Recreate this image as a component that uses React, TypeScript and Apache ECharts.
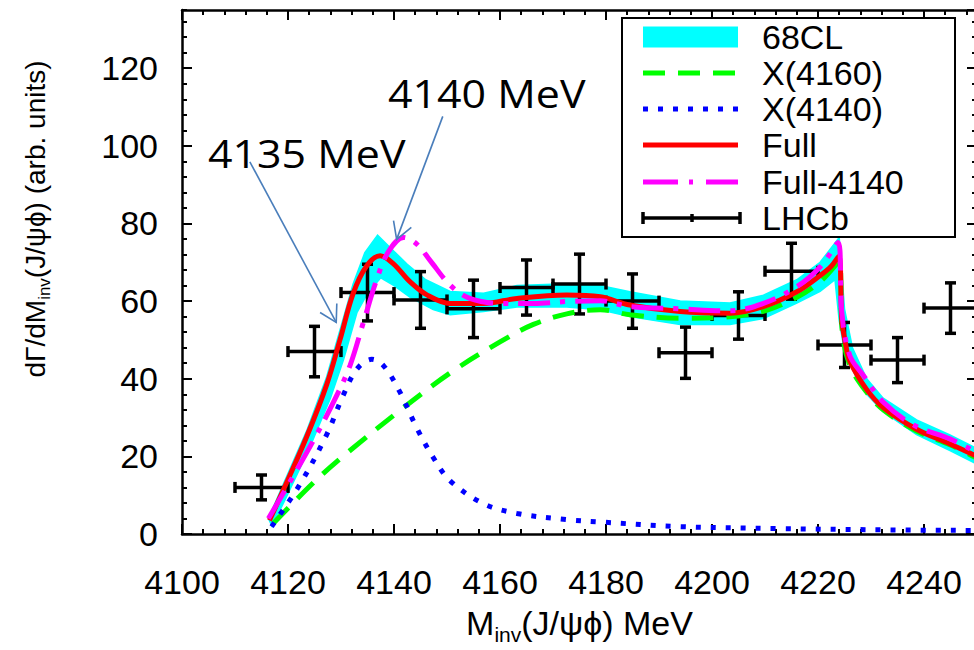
import React, { useEffect, useRef } from 'react';
import * as echarts from 'echarts';

const X_MIN = 4100;
const X_MAX = 4250;
const X_MAJOR = 20;
const X_MINOR = 4;
const Y_MIN = 0;
const Y_MAX = 135;
const Y_MAJOR = 20;
const Y_MINOR = 4;

// LHCb data points (bin centre, value, half bin width, error)
const lhcbX = [4115, 4125, 4135, 4145, 4155, 4165, 4175, 4185, 4195, 4205, 4215, 4225, 4235, 4245];
const lhcbY = [12, 47, 62.2, 60.3, 58, 63.5, 64.4, 60, 46.7, 56.3, 67.7, 48.7, 44.8, 58.2];
const lhcbXErr = [5, 5, 5, 5, 5, 5, 5, 5, 5, 5, 5, 5, 5, 5];
const lhcbYErr = [3.2, 6.5, 7.3, 7.3, 7.4, 7.1, 7.7, 7, 6.6, 6.1, 7.2, 5.8, 5.8, 6.5];

// Full (red)
const fullX = [4116.5, 4119, 4123.5, 4127.3, 4129.8, 4132.3, 4134.8, 4137.4, 4139.9, 4143, 4146.2, 4150.6, 4156.9, 4163.2, 4172.6, 4178.9, 4184.5, 4194, 4203.4, 4209.7, 4216, 4220.4, 4222.5, 4223.9, 4224.5, 4225.2, 4226, 4229.2, 4232.3, 4238.6, 4244.9, 4250];
const fullY = [3.5, 11, 25, 38.5, 50, 62, 69, 71.7, 69.6, 65, 61.6, 59.4, 59.4, 60.7, 61.6, 61.1, 59, 57.3, 56.9, 58.6, 62.4, 66.6, 69, 71.5, 55, 49, 44.5, 37.2, 32.6, 27, 23.2, 20];

// X(4160) (green dashed)
const x4160X = [4117.2, 4125.4, 4131.7, 4141.1, 4150.6, 4160, 4166.3, 4172.6, 4178.9, 4184.5, 4194, 4203.4, 4210, 4216, 4220.4, 4223.9, 4224.6, 4226, 4229.2, 4232.3, 4238.6, 4244.9, 4250];
const x4160Y = [2.7, 14, 21.5, 31.8, 41.5, 49.5, 54, 56.7, 57.8, 56.5, 55.6, 56, 57.5, 61, 65, 70, 52, 43.5, 36.5, 32, 26.5, 23, 19.5];

// X(4140) (blue dotted)
const x4140X = [4116.9, 4122.3, 4127.3, 4130.4, 4133, 4135.8, 4138, 4141.1, 4144.3, 4147.4, 4150.6, 4156.9, 4163.2, 4172.6, 4178.9, 4194, 4212.8, 4230, 4250];
const x4140Y = [1.9, 12.9, 25.6, 35.7, 42.5, 45, 43.4, 36.6, 27.3, 19.7, 13.7, 7.8, 5.3, 3.7, 3.1, 1.9, 1.4, 1.1, 0.9];

// Full-4140 (magenta dash-dot)
const full4140X = [4116.3, 4120.4, 4125.4, 4129.2, 4131.7, 4134.2, 4136.7, 4138.9, 4141.8, 4144.3, 4146.8, 4150.6, 4154.3, 4160, 4166.3, 4172.6, 4178.9, 4184.5, 4194, 4203.4, 4209.7, 4216, 4220.4, 4223.8, 4224.5, 4226, 4228.6, 4232.3, 4238, 4244.9, 4250];
const full4140Y = [4, 13.5, 25.6, 35.7, 43.4, 54.4, 65.4, 72.6, 76.4, 74.7, 70.5, 64.1, 60.7, 59.4, 59.4, 59.9, 60.1, 58.6, 58, 57.5, 59.4, 63.7, 68.8, 75.1, 57, 46, 40.8, 34, 28.1, 24.5, 21];

// 68CL band edges
const bandUpX = [4116.3, 4119, 4123.5, 4127.3, 4129.8, 4132.3, 4134.5, 4136.9, 4139.5, 4142.5, 4146, 4150.6, 4156.9, 4163.2, 4172.6, 4178.9, 4184.5, 4194, 4203.4, 4209.7, 4216, 4220.4, 4224, 4225, 4226.5, 4229.2, 4232.3, 4238.6, 4244.9, 4250];
const bandUpY = [4, 12.5, 26.5, 40.5, 52.5, 64.5, 72.5, 77, 73.5, 69.5, 65.5, 62.5, 62, 64, 64.5, 64, 62.4, 60, 59.5, 61.5, 65.5, 70, 76.4, 58, 48, 40, 35, 29.4, 25.5, 22];
const bandLoX = [4117, 4119.5, 4124, 4128, 4130.5, 4133, 4135, 4137.5, 4140, 4143, 4147.4, 4150.6, 4156.9, 4163.2, 4172.6, 4178.9, 4184.5, 4194, 4203.4, 4209.7, 4216, 4220.4, 4223.2, 4224, 4225, 4227, 4229.2, 4232.3, 4238.6, 4244.9, 4250];
const bandLoY = [2, 9, 22, 35, 45, 57, 62, 66, 64, 61, 57.8, 56.5, 57.3, 58.5, 58.5, 57.8, 56, 54, 54, 55.5, 59.5, 62.5, 65.5, 55, 47, 41, 36, 31.5, 25.6, 21.5, 18];

const legendNames = ['68CL', 'X(4160)', 'X(4140)', 'Full', 'Full-4140', 'LHCb'];

const annotTexts = ['4135 MeV', '4140 MeV'];
const annotTail = [[4112.8, 95.9], [4149.2, 107.6]];
const annotTip = [[4129.1, 54.5], [4140.5, 75.9]];

const FONT = '"Liberation Sans", Arial, sans-serif';
const pairs = (xs: number[], ys: number[]) => xs.map((x, i) => [x, ys[i]]);

export default function App() {
  const ref = useRef<HTMLDivElement>(null);
  useEffect(() => {
    if (!ref.current) return;
    const chart = echarts.init(ref.current, null, { renderer: 'svg' });
    const tickStyle = { color: '#000', width: 2 };
    const lineSeries = (name: string, xs: number[], ys: number[], color: string, type: any) => ({
      type: 'line',
      name,
      data: pairs(xs, ys),
      showSymbol: false,
      symbol: 'none',
      smooth: 0.35,
      lineStyle: { color, width: 5, type, cap: 'butt' },
      xAxisIndex: 0,
      yAxisIndex: 0,
    });
    const bandUp = pairs(bandUpX, bandUpY);
    const bandLo = pairs(bandLoX, bandLoY);
    const option: any = {
      animation: false,
      backgroundColor: '#fff',
      grid: { left: 182, top: 10, right: 13, bottom: 109.3 },
      xAxis: [
        {
          type: 'value', position: 'bottom', min: X_MIN, max: X_MAX, interval: X_MAJOR,
          axisLine: { show: true, onZero: false, lineStyle: { color: '#000', width: 2.5 } },
          axisTick: { show: true, inside: true, length: 10, lineStyle: tickStyle },
          axisLabel: { show: true, margin: 31, fontSize: 34, fontFamily: FONT, color: '#000', showMaxLabel: false, formatter: (v: number) => String(v) },
          splitLine: { show: false },
          name: '{m|M}{s|inv}{m|(J/ψϕ) MeV}',
          nameLocation: 'middle',
          nameGap: 72,
          nameTextStyle: {
            fontFamily: FONT, fontSize: 34, color: '#000',
            rich: {
              m: { fontFamily: FONT, fontSize: 34, lineHeight: 34, verticalAlign: 'top', color: '#000' },
              s: { fontFamily: FONT, fontSize: 21, lineHeight: 21, verticalAlign: 'top', padding: [18, 0, 0, 0], color: '#000' },
            },
          },
        },
        {
          type: 'value', position: 'bottom', min: X_MIN, max: X_MAX, interval: X_MINOR,
          axisLine: { show: false, onZero: false },
          axisTick: { show: true, inside: true, length: 5, lineStyle: tickStyle },
          axisLabel: { show: false }, splitLine: { show: false },
        },
        {
          type: 'value', position: 'top', min: X_MIN, max: X_MAX, interval: X_MAJOR,
          axisLine: { show: true, onZero: false, lineStyle: { color: '#000', width: 2.5 } },
          axisTick: { show: true, inside: true, length: 10, lineStyle: tickStyle },
          axisLabel: { show: false }, splitLine: { show: false },
        },
        {
          type: 'value', position: 'top', min: X_MIN, max: X_MAX, interval: X_MINOR,
          axisLine: { show: false, onZero: false },
          axisTick: { show: true, inside: true, length: 5, lineStyle: tickStyle },
          axisLabel: { show: false }, splitLine: { show: false },
        },
      ],
      yAxis: [
        {
          type: 'value', position: 'left', min: Y_MIN, max: Y_MAX, interval: Y_MAJOR,
          axisLine: { show: true, onZero: false, lineStyle: { color: '#000', width: 2.5 } },
          axisTick: { show: true, inside: true, length: 10, lineStyle: tickStyle },
          axisLabel: { show: true, margin: 24, fontSize: 34, fontFamily: FONT, color: '#000', showMaxLabel: false },
          splitLine: { show: false },
          name: '{m|dΓ/dM}{s|inv}{m|(J/ψϕ) (arb. units)}',
          nameLocation: 'middle',
          nameRotate: 90,
          nameGap: 133,
          nameTextStyle: {
            fontFamily: FONT, fontSize: 28, color: '#000', padding: [0, 0, 0, 106],
            rich: {
              m: { fontFamily: FONT, fontSize: 28, lineHeight: 28, verticalAlign: 'top', color: '#000' },
              s: { fontFamily: FONT, fontSize: 17, lineHeight: 17, verticalAlign: 'top', padding: [15, 0, 0, 0], color: '#000' },
            },
          },
        },
        {
          type: 'value', position: 'left', min: Y_MIN, max: Y_MAX, interval: Y_MINOR,
          axisLine: { show: false, onZero: false },
          axisTick: { show: true, inside: true, length: 5, lineStyle: tickStyle },
          axisLabel: { show: false }, splitLine: { show: false },
        },
        {
          type: 'value', position: 'right', min: Y_MIN, max: Y_MAX, interval: Y_MAJOR,
          axisLine: { show: true, onZero: false, lineStyle: { color: '#000', width: 2.5 } },
          axisTick: { show: true, inside: true, length: 10, lineStyle: tickStyle },
          axisLabel: { show: false }, splitLine: { show: false },
        },
        {
          type: 'value', position: 'right', min: Y_MIN, max: Y_MAX, interval: Y_MINOR,
          axisLine: { show: false, onZero: false },
          axisTick: { show: true, inside: true, length: 5, lineStyle: tickStyle },
          axisLabel: { show: false }, splitLine: { show: false },
        },
      ],
      series: [
        {
          type: 'custom',
          name: legendNames[0],
          xAxisIndex: 0,
          yAxisIndex: 0,
          data: bandUp,
          encode: { x: 0, y: 1 },
          renderItem: (params: any, api: any) => {
            if (params.dataIndex !== 0) return null;
            const pts = bandUp.map((p) => api.coord(p)).concat(bandLo.slice().reverse().map((p) => api.coord(p)));
            return {
              type: 'polygon',
              shape: { points: pts },
              style: { fill: '#00ffff', stroke: '#00ffff', lineWidth: 1.5 },
            };
          },
        },
        lineSeries(legendNames[1], x4160X, x4160Y, '#00ff00', [22, 13]),
        lineSeries(legendNames[2], x4140X, x4140Y, '#0000ff', [5, 10]),
        lineSeries(legendNames[3], fullX, fullY, '#ff0000', 'solid'),
        lineSeries(legendNames[4], full4140X, full4140Y, '#ff00ff', [32, 10, 5, 10]),
        {
          type: 'custom',
          name: legendNames[5],
          xAxisIndex: 0,
          yAxisIndex: 0,
          data: lhcbX.map((x, i) => [x, lhcbY[i], lhcbXErr[i], lhcbYErr[i]]),
          encode: { x: 0, y: 1 },
          renderItem: (params: any, api: any) => {
            const x = api.value(0);
            const y = api.value(1);
            const ex = api.value(2);
            const ey = api.value(3);
            const l = api.coord([x - ex, y]);
            const r = api.coord([x + ex, y]);
            const t = api.coord([x, y + ey]);
            const b = api.coord([x, y - ey]);
            const c = 5.5;
            const st = { stroke: '#000', lineWidth: 3.5, fill: 'none' };
            const ln = (x1: number, y1: number, x2: number, y2: number) => ({ type: 'line', shape: { x1, y1, x2, y2 }, style: st });
            return {
              type: 'group',
              children: [
                ln(l[0], l[1], r[0], r[1]),
                ln(t[0], t[1], b[0], b[1]),
                ln(t[0] - c, t[1], t[0] + c, t[1]),
                ln(b[0] - c, b[1], b[0] + c, b[1]),
                ln(l[0], l[1] - c, l[0], l[1] + c),
                ln(r[0], r[1] - c, r[0], r[1] + c),
              ],
            };
          },
        },
      ],
    };
    chart.setOption(option);

    // legend drawn as graphic
    const rowY = [37, 73, 109, 145, 182, 218];
    const sx1 = 643;
    const sx2 = 738;
    const legendEls: any[] = [
      { type: 'rect', shape: { x: 622, y: 18, width: 333, height: 219 }, style: { fill: '#fff', stroke: '#000', lineWidth: 2 }, z: 100 },
      { type: 'rect', shape: { x: sx1, y: rowY[0] - 10.5, width: sx2 - sx1, height: 21 }, style: { fill: '#00ffff' }, z: 101 },
      { type: 'line', shape: { x1: sx1, y1: rowY[1], x2: sx2, y2: rowY[1] }, style: { stroke: '#00ff00', lineWidth: 5, lineDash: [22, 13] }, z: 101 },
      { type: 'line', shape: { x1: sx1, y1: rowY[2], x2: sx2, y2: rowY[2] }, style: { stroke: '#0000ff', lineWidth: 5, lineDash: [5, 10] }, z: 101 },
      { type: 'line', shape: { x1: sx1, y1: rowY[3], x2: sx2, y2: rowY[3] }, style: { stroke: '#ff0000', lineWidth: 5 }, z: 101 },
      { type: 'line', shape: { x1: sx1, y1: rowY[4], x2: sx2, y2: rowY[4] }, style: { stroke: '#ff00ff', lineWidth: 5, lineDash: [35, 11, 4, 13] }, z: 101 },
      { type: 'line', shape: { x1: sx1, y1: rowY[5], x2: sx2 + 2, y2: rowY[5] }, style: { stroke: '#000', lineWidth: 3.5 }, z: 101 },
      { type: 'line', shape: { x1: sx1, y1: rowY[5] - 6, x2: sx1, y2: rowY[5] + 6 }, style: { stroke: '#000', lineWidth: 3.5 }, z: 101 },
      { type: 'line', shape: { x1: sx2 + 2, y1: rowY[5] - 6, x2: sx2 + 2, y2: rowY[5] + 6 }, style: { stroke: '#000', lineWidth: 3.5 }, z: 101 },
      { type: 'line', shape: { x1: 692, y1: rowY[5] - 4, x2: 692, y2: rowY[5] + 4 }, style: { stroke: '#000', lineWidth: 3.5 }, z: 101 },
    ];
    legendNames.forEach((n, i) => {
      legendEls.push({
        type: 'text', x: 762, y: rowY[i], z: 102,
        style: { text: n, fontFamily: FONT, fontSize: 34, fill: '#000', textAlign: 'left', textVerticalAlign: 'middle', verticalAlign: 'middle' },
      });
    });

    // annotations with arrows
    const annotPos = [[208, 153], [388, 93]];
    const arrowEls: any[] = [];
    annotTexts.forEach((t, i) => {
      const tail = chart.convertToPixel({ xAxisIndex: 0, yAxisIndex: 0 } as any, annotTail[i]) as number[];
      const tip = chart.convertToPixel({ xAxisIndex: 0, yAxisIndex: 0 } as any, annotTip[i]) as number[];
      const dx = tail[0] - tip[0];
      const dy = tail[1] - tip[1];
      const len = Math.sqrt(dx * dx + dy * dy);
      const ux = dx / len;
      const uy = dy / len;
      const a = (30 * Math.PI) / 180;
      const hl = 19;
      const w1 = [tip[0] + hl * (ux * Math.cos(a) - uy * Math.sin(a)), tip[1] + hl * (ux * Math.sin(a) + uy * Math.cos(a))];
      const w2 = [tip[0] + hl * (ux * Math.cos(-a) - uy * Math.sin(-a)), tip[1] + hl * (ux * Math.sin(-a) + uy * Math.cos(-a))];
      const arrowStyle = { stroke: '#4a7ebb', lineWidth: 1.6, fill: 'none' };
      arrowEls.push({ type: 'line', shape: { x1: tail[0], y1: tail[1], x2: tip[0], y2: tip[1] }, style: arrowStyle, z: 110 });
      arrowEls.push({ type: 'polyline', shape: { points: [w1, tip, w2] }, style: arrowStyle, z: 110 });
      arrowEls.push({
        type: 'text', x: annotPos[i][0], y: annotPos[i][1], scaleX: 1.1, z: 111,
        style: { text: t, fontFamily: '"Open Sans", Lato, sans-serif', fontSize: 39, fill: '#000', textAlign: 'left', textVerticalAlign: 'middle', verticalAlign: 'middle' },
      });
    });

    chart.setOption({ graphic: { elements: legendEls.concat(arrowEls) } });
    return () => chart.dispose();
  }, []);

  return (
    <div style={{ position: 'absolute', left: 0, top: 0, width: 974, height: 650, overflow: 'hidden', background: '#fff' }}>
      <div ref={ref} style={{ width: 990, height: 650 }} />
    </div>
  );
}
